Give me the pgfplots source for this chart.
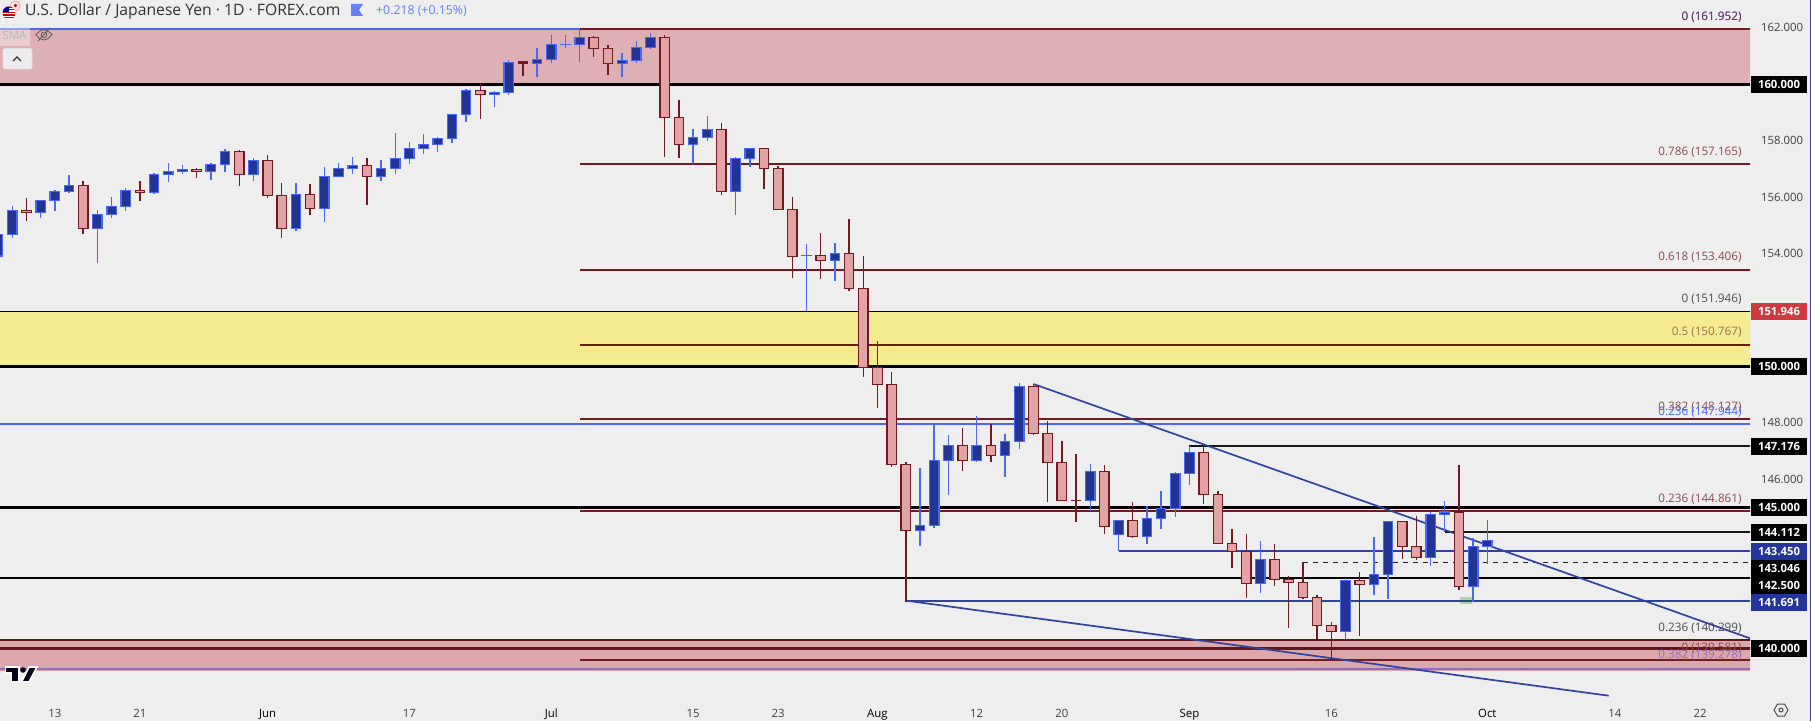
\documentclass[border=0pt]{standalone}
\usepackage{fontspec}
\setmainfont{Open Sans}
\usepackage{pgfplots}
\usepackage{pgfplotstable}
\pgfplotsset{compat=1.18}
\definecolor{bgc}{HTML}{EEEEEE}
\definecolor{upfill}{HTML}{233594}
\definecolor{upline}{HTML}{4A68F5}
\definecolor{dnfill}{HTML}{E3A3A5}
\definecolor{dnline}{HTML}{6F1C20}
\definecolor{zonepink}{HTML}{DEAFB5}
\definecolor{zonelow}{HTML}{DCA7AA}
\definecolor{zoneyel}{HTML}{F5EB8F}
\definecolor{navyl}{HTML}{2F439F}
\definecolor{purp}{HTML}{8F6BC0}
\definecolor{labbrown}{HTML}{8A4B4F}
\definecolor{labgray}{HTML}{4A4A4A}
\definecolor{boxblue}{HTML}{23359A}
\definecolor{boxred}{HTML}{CE3A40}
\pgfplotstableread{
i o h l c
0 153.911 154.762 153.876 154.680
1 154.680 155.673 154.560 155.532
3 155.446 155.886 155.269 155.886
4 155.886 156.251 155.517 156.205
5 156.205 156.783 156.156 156.418
7 154.893 155.532 153.663 155.390
8 155.390 156.003 155.269 155.673
9 155.673 156.312 155.517 156.241
11 156.170 156.844 156.120 156.808
12 156.808 157.209 156.546 156.915
13 156.915 157.138 156.829 156.986
15 156.915 157.198 156.606 157.163
16 157.163 157.695 156.900 157.624
18 156.808 157.376 156.581 157.305
21 154.893 156.489 154.808 156.099
23 155.602 157.067 155.127 156.737
24 156.737 157.209 156.737 157.021
25 157.021 157.422 156.829 157.127
27 156.737 157.315 156.571 157.021
28 157.021 158.273 156.829 157.376
29 157.376 157.954 157.184 157.730
30 157.730 158.237 157.539 157.872
31 157.872 158.131 157.610 158.085
32 158.085 158.936 157.918 158.936
33 158.936 159.833 158.673 159.787
35 159.645 159.762 159.205 159.716
36 159.716 160.851 159.631 160.780
38 160.744 161.287 160.269 160.886
39 160.886 161.748 160.766 161.418
40 161.411 161.748 161.287 161.418
41 161.418 161.950 160.801 161.666
44 160.744 161.110 160.269 160.851
45 160.851 161.535 160.766 161.312
46 161.312 161.819 161.251 161.666
49 157.872 158.415 157.184 158.120
50 158.120 158.876 158.000 158.404
52 156.205 157.422 155.365 157.376
53 157.376 157.730 157.078 157.730
57 153.925 154.337 151.961 153.936
59 153.758 154.372 153.035 154.007
65 144.184 146.393 143.627 144.361
66 144.361 147.918 144.276 146.666
67 146.666 147.563 145.436 147.198
69 146.666 148.237 146.606 147.198
71 146.829 147.599 146.074 147.340
72 147.340 149.407 147.067 149.290
77 145.248 146.535 144.868 146.276
79 144.042 144.539 143.450 144.539
81 143.971 145.046 143.709 144.610
82 144.610 145.578 144.241 144.964
83 144.964 146.241 144.666 146.205
84 146.205 147.163 145.801 146.950
89 142.305 143.805 141.961 143.156
95 140.603 142.482 140.319 142.411
97 142.269 143.946 141.890 142.624
98 142.624 144.503 141.737 144.503
101 143.227 144.833 142.918 144.737
102 144.737 145.223 144.134 144.833
104 142.184 143.900 141.641 143.603
105 143.603 144.549 142.989 143.815
}\tup
\pgfplotstableread{
i o h l c
2 155.532 155.968 155.163 155.446
6 156.418 156.571 154.702 154.893
10 156.241 156.571 155.872 156.170
14 156.986 157.021 156.687 156.915
17 157.624 157.659 156.404 156.808
19 157.305 157.493 155.978 156.064
20 156.064 156.489 154.560 154.893
22 156.099 156.464 155.365 155.602
26 157.127 157.386 155.720 156.737
34 159.787 160.010 158.780 159.645
37 160.790 160.826 160.294 160.744
42 161.666 161.712 160.978 161.276
43 161.276 161.393 160.329 160.744
47 161.666 161.748 157.432 158.829
48 158.829 159.443 157.397 157.872
51 158.404 158.627 156.074 156.205
54 157.730 157.730 156.287 157.021
55 157.021 157.092 155.567 155.567
56 155.567 156.003 153.141 153.900
58 153.936 154.727 153.106 153.758
60 154.007 155.223 152.680 152.751
61 152.751 153.911 149.631 149.964
62 149.964 150.897 148.532 149.361
63 149.361 149.787 146.439 146.510
64 146.525 146.595 141.652 144.184
68 147.198 147.812 146.287 146.666
70 147.198 147.954 146.606 146.829
73 149.290 149.372 147.563 147.624
74 147.624 148.060 145.198 146.581
75 146.595 147.351 145.248 145.248
76 145.248 146.890 144.478 145.237
78 146.276 146.500 144.064 144.326
80 144.539 145.188 143.922 143.971
85 146.950 147.209 145.127 145.461
86 145.461 145.578 143.723 143.723
87 143.723 144.230 142.847 143.440
88 143.440 144.053 141.783 142.305
90 143.156 143.698 142.209 142.446
91 142.446 142.563 140.730 142.340
92 142.340 143.049 141.748 141.808
93 141.808 141.890 140.319 140.815
94 140.815 140.932 139.645 140.603
96 142.411 142.705 140.446 142.269
99 144.503 144.503 143.166 143.617
100 143.610 144.691 143.131 143.227
103 144.822 146.500 142.067 142.184
}\tdn
\newcommand{\zone}[3]{\addplot[fill=#3,draw=none] coordinates {(-1,#1)(130,#1)(130,#2)(-1,#2)} -- cycle;}
\newcommand{\hl}[4]{\addplot[draw=#3,line width=#4] coordinates {(#1,#2)(130,#2)};}
\newcommand{\lab}[3]{\node[anchor=east,text=#1,inner sep=0pt,font=\fontsize{11.7}{14}\selectfont] at (1741.7,#2) {#3};}
\newcommand{\bx}[3]{\node[fill=#1,text=white,minimum width=56pt,minimum height=17pt,inner sep=0pt,font=\fontsize{11.3}{14}\selectfont\bfseries] at (1779,#2) {#3};}
\begin{document}
\begin{tikzpicture}[x=1pt,y=1pt]
\useasboundingbox (0,0) rectangle (1811,721);
\fill[bgc] (0,0) rectangle (1811,721);
\begin{axis}[
  at={(0pt,25pt)},anchor=south west,
  width=1750pt,height=696pt,scale only axis,
  xmin=0.134,xmax=123.52,
  ymin=138.308,ymax=162.989,
  clip mode=individual,
  axis line style={draw=none},
  major tick length=0pt,
  tick style={draw=none},
  xtick={4,10,19,29,39,49,55,62,69,75,84,94,105,114,120},
  xticklabels={13,21,{\color{black}Jun},17,{\color{black}Jul},15,23,{\color{black}Aug},12,20,{\color{black}Sep},16,{\color{black}Oct},14,22},
  ytick={146,148,154,156,158,162},
  ytick pos=right,yticklabel pos=right,
  tick label style={font=\fontsize{11.4}{14}\selectfont,text=black!75},
  xticklabel style={yshift=-9.5pt},
  yticklabel style={xshift=7.5pt,/pgf/number format/.cd,fixed,fixed zerofill,precision=3,1000 sep={},assume math mode=true},
]
% zones
\zone{160}{161.952}{zonepink}
\zone{150}{151.946}{zoneyel}
\zone{139.190}{140.299}{zonelow}
% levels
\addplot[draw=upline,line width=1.8pt] coordinates {(-1,161.952)(41,161.952)};
\hl{41}{161.952}{dnline}{1.8pt}
\hl{-1}{160}{black}{2.7pt}
\hl{41}{157.165}{dnline}{1.7pt}
\hl{41}{153.406}{dnline}{1.7pt}
\hl{-1}{151.946}{black}{1.2pt}
\hl{41}{150.767}{dnline}{1.7pt}
\hl{-1}{150}{black}{3pt}
\hl{41}{148.127}{dnline}{1.7pt}
\hl{-1}{147.944}{upline}{1.8pt}
\hl{84}{147.176}{black!90}{1.8pt}
\hl{-1}{145}{black}{2.7pt}
\hl{41}{144.861}{dnline}{1.8pt}
\hl{102}{144.112}{black!90}{1.7pt}
\hl{79}{143.45}{navyl}{1.8pt}
\addplot[draw=black!85,line width=1.1pt,dash pattern=on 5pt off 5pt] coordinates {(92,143.046)(130,143.046)};
\hl{-1}{142.5}{black}{1.9pt}
\hl{64}{141.691}{navyl}{1.8pt}
\hl{-1}{140.299}{dnline!85!black}{1.4pt}
\hl{-1}{140}{dnline!85!black}{2.7pt}
\hl{41}{139.581}{dnline}{1.7pt}
\hl{-1}{139.278}{purp}{1.8pt}
% trend lines
\addplot[draw=navyl,line width=1.7pt] coordinates {(73,149.372)(123.52,140.354)};
\addplot[draw=navyl,line width=1.7pt] coordinates {(64,141.691)(113.56,138.319)};
% candles: wick, border, fill
\addplot[draw=upline,line width=1.4pt,quiver={u=0,v={\thisrow{h}-\thisrow{l}}}] table[x=i,y=l]{\tup};
\addplot[draw=upline,line width=10.7pt,quiver={u=0,v={\thisrow{c}-\thisrow{o}+0.042}}] table[x=i,y expr=\thisrow{o}-0.021]{\tup};
\addplot[draw=upfill,line width=8.1pt,quiver={u=0,v={max(\thisrow{c}-\thisrow{o}-0.05,0)}}] table[x=i,y expr=\thisrow{o}+0.025]{\tup};
\addplot[draw=dnline,line width=1.4pt,quiver={u=0,v={\thisrow{h}-\thisrow{l}}}] table[x=i,y=l]{\tdn};
\addplot[draw=dnline,line width=10.7pt,quiver={u=0,v={\thisrow{o}-\thisrow{c}+0.042}}] table[x=i,y expr=\thisrow{c}-0.021]{\tdn};
\addplot[draw=dnfill,line width=8.1pt,quiver={u=0,v={max(\thisrow{o}-\thisrow{c}-0.05,0)}}] table[x=i,y expr=\thisrow{c}+0.025]{\tdn};
\end{axis}
\begin{scope}[shift={(0,721)},y=-1pt]
% fib labels
\lab{upline!80}{16.7}{0 (161.952)}
\lab{dnline!80!upline}{16.7}{0 (161.952)}
\lab{labbrown}{151.7}{0.786 (157.165)}
\lab{labbrown}{257.3}{0.618 (153.406)}
\lab{labgray}{298.7}{0 (151.946)}
\lab{labbrown!70!zoneyel!90!black}{331.7}{0.5 (150.767)}
\lab{labbrown}{406.7}{0.382 (148.127)}
\lab{upline}{411.7}{0.236 (147.944)}
\lab{labbrown}{498.7}{0.236 (144.861)}
\lab{labgray}{627.7}{0.236 (140.299)}
\lab{labbrown}{647.7}{0 (139.581)}
\lab{purp}{655}{0.382 (139.278)}
% price boxes
\bx{black}{84.3}{160.000}
\bx{boxred}{311.5}{151.946}
\bx{black}{366.5}{150.000}
\bx{black}{446.5}{147.176}
\bx{black}{507.5}{145.000}
\bx{black}{532.5}{144.112}
\bx{black}{568.5}{143.046}
\bx{black}{585.5}{142.500}
\bx{boxblue}{551.5}{143.450}
\bx{boxblue}{602.5}{141.691}
\bx{black}{648.5}{140.000}
% right edge
\draw[navyl,line width=1pt] (1810.5,0) -- (1810.5,721);
% green marker
\fill[green!45!black,opacity=0.25] (1460,597) rectangle (1472,604);
% header
\node[anchor=west,inner sep=0pt,text=black!80,font=\fontsize{15.7}{17}\selectfont] at (25,11.5) {U.S. Dollar / Japanese Yen · 1D · FOREX.com};
\fill[upline!85!white] (351,4) -- (363,4) -- (359,10) -- (363,16) -- (351,16) -- cycle;
\node[anchor=west,inner sep=0pt,text=upline!85!white,font=\fontsize{12.3}{15}\selectfont] at (376,11.5) {+0.218 (+0.15\%)};
% flags
\fill[white!92!red,draw=red!60!white,line width=.4pt] (15,6) circle (5);
\fill[red!80!black] (15.5,5.5) circle (1.8);
\begin{scope}
\clip (9,13) circle (6.5);
\fill[white] (2,6) rectangle (16,20);
\foreach \s in {6.5,9.1,11.7,14.3,16.9} \fill[red!75!black] (2,\s) rectangle (16,\s+1.3);
\fill[blue!60!black] (2,6) rectangle (9,12.5);
\end{scope}
% SMA tag
\fill[white,opacity=.38] (0,28) rectangle (30,46);
\node[text=black!28,inner sep=0pt,font=\fontsize{11.5}{13}\selectfont] at (14.5,35) {SMA};
\draw[black!65,line width=.8pt] (44,29.5) .. controls (47,30) and (50,32) .. (52,34.5) .. controls (49,38) and (47,40) .. (44,40) .. controls (41,40) and (38,38) .. (36,34.5) .. controls (38,32) and (41,30) .. (44,29.5);
\draw[black!65,line width=.8pt] (44,34.7) circle (2.8);
\draw[black!65,line width=.8pt] (38,41) -- (50,28);
% collapse button
\fill[bgc!96!zonepink,draw=black!12,line width=.7pt,rounded corners=2pt] (3,48.5) rectangle (32,69);
\draw[black!80,line width=1.1pt] (13,61) -- (17,57) -- (21,61);
% logo
\begin{scope}[line join=miter]
\filldraw[fill=black!90!blue,draw=white,line width=1.6pt] (5.5,667) -- (19,667) -- (19,682) -- (11.5,682) -- (11.5,673) -- (5.5,673) -- cycle;
\filldraw[fill=black!90!blue,draw=white,line width=1.6pt] (29,667) -- (37,667) -- (29,682) -- (21.5,682) -- cycle;
\fill[black!90!blue] (23,670) circle (2.8);
\end{scope}
% gear
\draw[black!70,line width=1pt] (1774,710) -- (1777.5,704) -- (1784.5,704) -- (1788,710) -- (1784.5,716) -- (1777.5,716) -- cycle;
\draw[black!70,line width=1pt] (1781,710) circle (2);
\end{scope}
\end{tikzpicture}
\end{document}
